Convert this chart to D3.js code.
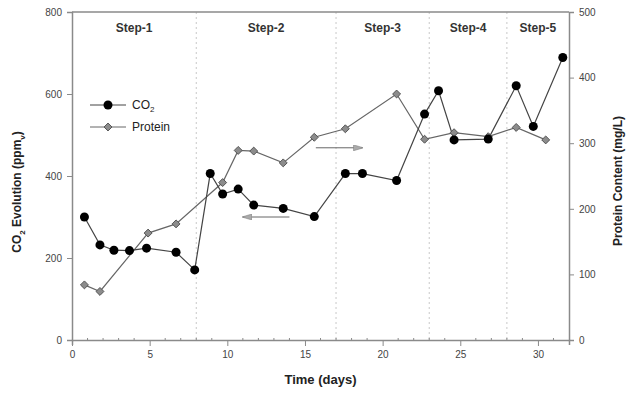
<!DOCTYPE html>
<html>
<head>
<meta charset="utf-8">
<script src="https://cdn.jsdelivr.net/npm/d3@7"></script>
<style>
body { margin: 0; background: #fff; }
svg { font-family: "Liberation Sans", Arial, sans-serif; }
</style>
</head>
<body>
<div id="container"></div>
<script>
// data
var co2Days = [0.8, 1.8, 2.7, 3.7, 4.8, 6.7, 7.9, 8.9, 9.7, 10.7, 11.7, 13.6, 15.6, 17.6, 18.7, 20.9, 22.7, 23.6, 24.6, 26.8, 28.6, 29.7, 31.6];
var co2Values = [300, 232, 219, 218, 224, 214, 171, 406, 356, 368, 329, 321, 301, 406, 406, 389, 551, 608, 488, 490, 620, 521, 689];
var proteinDays = [0.8, 1.8, 4.9, 6.7, 9.7, 10.7, 11.7, 13.6, 15.6, 17.6, 20.9, 22.7, 24.6, 26.8, 28.6, 30.5];
var proteinValues = [84, 74, 163, 177, 240, 289, 288, 270, 309, 322, 375, 306, 316, 310, 324, 305];
var stepBounds = [0, 8, 17, 23, 28, 32];
var stepNames = ["Step-1", "Step-2", "Step-3", "Step-4", "Step-5"];
var xTicks = [0, 5, 10, 15, 20, 25, 30];
var leftTicks = [0, 200, 400, 600, 800];
var rightTicks = [0, 100, 200, 300, 400, 500];

var W = 642, H = 394;
var margin = {top: 12, right: 73, bottom: 54, left: 72};
var width = W - margin.left - margin.right,
	height = H - margin.top - margin.bottom;
var axisColor = "#8a8a8a";

var svg = d3.select("#container").append("svg")
	.attr("width", W)
	.attr("height", H);
var g = svg.append("g")
	.attr("transform", "translate(" + margin.left + "," + margin.top + ")");

var x = d3.scaleLinear().domain([0, 32]).range([0, width]);
var yL = d3.scaleLinear().domain([0, 800]).range([height, 0]);
var yR = d3.scaleLinear().domain([0, 500]).range([height, 0]);

// step separators
g.selectAll(".sep").data(stepBounds.slice(1, -1)).enter()
	.append("line")
	.attr("class", "sep")
	.attr("x1", function(d) { return x(d); })
	.attr("x2", function(d) { return x(d); })
	.attr("y1", 0).attr("y2", height)
	.attr("stroke", "#c8c8c8")
	.attr("stroke-dasharray", "2,3");

g.selectAll(".step").data(stepNames).enter()
	.append("text")
	.attr("class", "step")
	.attr("x", function(d, i) { return x((stepBounds[i] + stepBounds[i + 1]) / 2); })
	.attr("y", 20)
	.attr("text-anchor", "middle")
	.style("font-size", "12px")
	.style("font-weight", "bold")
	.style("fill", "#333")
	.text(function(d) { return d; });

// frame top line
g.append("line")
	.attr("x1", 0).attr("x2", width).attr("y1", 0).attr("y2", 0)
	.attr("stroke", axisColor).attr("stroke-width", 1.5);

// x axis
var xAxis = d3.axisBottom(x).tickValues(xTicks).tickSize(5).tickPadding(6);
var gx = g.append("g")
	.attr("transform", "translate(0," + height + ")")
	.call(xAxis);
gx.selectAll(".tick line").attr("transform", "translate(0,1)");
g.append("g").selectAll("line").data(d3.range(1, 32).filter(function(d) { return d % 5 != 0; })).enter()
	.append("line")
	.attr("x1", function(d) { return x(d); })
	.attr("x2", function(d) { return x(d); })
	.attr("y1", height - 2).attr("y2", height + 1)
	.attr("stroke", axisColor);

var yAxisL = d3.axisLeft(yL).tickValues(leftTicks).tickSize(5).tickPadding(5);
var gl = g.append("g").call(yAxisL);
var yAxisR = d3.axisRight(yR).tickValues(rightTicks).tickSize(5).tickPadding(5);
var gr = g.append("g").attr("transform", "translate(" + width + ",0)").call(yAxisR);

[gx, gl, gr].forEach(function(a) {
	a.select(".domain").attr("stroke", axisColor).attr("stroke-width", 1.5);
	a.selectAll(".tick line").attr("stroke", axisColor);
	a.selectAll(".tick text").style("font-size", "10px").style("fill", "#444").style("font-family", "Liberation Sans, Arial, sans-serif");
});

// axis titles
g.append("text")
	.attr("x", width / 2)
	.attr("y", height + 44)
	.attr("text-anchor", "middle")
	.style("font-size", "13px").style("font-weight", "bold").style("fill", "#222")
	.text("Time (days)");

var tl = g.append("text")
	.attr("transform", "translate(" + (-51) + "," + (height / 2 + 16) + ") rotate(-90)")
	.attr("text-anchor", "middle")
	.style("font-size", "12px").style("font-weight", "bold").style("fill", "#222");
tl.append("tspan").text("CO");
tl.append("tspan").attr("dy", 4).style("font-size", "8px").text("2");
tl.append("tspan").attr("dy", -4).text(" Evolution (ppm");
tl.append("tspan").attr("dy", 4).style("font-size", "8px").text("v");
tl.append("tspan").attr("dy", -4).text(")");

g.append("text")
	.attr("transform", "translate(" + (width + 53) + "," + (height / 2 + 5) + ") rotate(-90)")
	.attr("text-anchor", "middle")
	.style("font-size", "12px").style("font-weight", "bold").style("fill", "#222")
	.text("Protein Content (mg/L)");

// series
var co2 = co2Days.map(function(d, i) { return {x: d, y: co2Values[i]}; });
var prot = proteinDays.map(function(d, i) { return {x: d, y: proteinValues[i]}; });

g.append("path").datum(prot)
	.attr("fill", "none").attr("stroke", "#666").attr("stroke-width", 1.2)
	.attr("d", d3.line().x(function(d) { return x(d.x); }).y(function(d) { return yR(d.y); }));
g.append("path").datum(co2)
	.attr("fill", "none").attr("stroke", "#444").attr("stroke-width", 1.2)
	.attr("d", d3.line().x(function(d) { return x(d.x); }).y(function(d) { return yL(d.y); }));

var diamond = d3.symbol().type(d3.symbolDiamond2).size(40);
g.selectAll(".pdot").data(prot).enter()
	.append("path")
	.attr("class", "pdot")
	.attr("d", diamond)
	.attr("transform", function(d) { return "translate(" + x(d.x) + "," + yR(d.y) + ")"; })
	.attr("fill", "#8c8c8c").attr("stroke", "#555").attr("stroke-width", 1);

g.selectAll(".cdot").data(co2).enter()
	.append("circle")
	.attr("class", "cdot")
	.attr("cx", function(d) { return x(d.x); })
	.attr("cy", function(d) { return yL(d.y); })
	.attr("r", 4.5)
	.attr("fill", "#000");

// arrows pointing to the axis of each series
var defs = svg.append("defs");
defs.append("marker")
	.attr("id", "head")
	.attr("viewBox", "0 0 10 6")
	.attr("refX", 9).attr("refY", 3)
	.attr("markerWidth", 10).attr("markerHeight", 6)
	.attr("markerUnits", "userSpaceOnUse")
	.attr("orient", "auto")
	.append("path").attr("d", "M0,0 L10,3 L0,6 Z").attr("fill", "#aaa").attr("stroke", "#777").attr("stroke-width", 0.5);

g.append("line")
	.attr("x1", x(15.7)).attr("x2", x(18.7))
	.attr("y1", yR(293)).attr("y2", yR(293))
	.attr("stroke", "#666").attr("stroke-width", 1)
	.attr("marker-end", "url(#head)");
g.append("line")
	.attr("x1", x(14)).attr("x2", x(11))
	.attr("y1", yL(300)).attr("y2", yL(300))
	.attr("stroke", "#666").attr("stroke-width", 1)
	.attr("marker-end", "url(#head)");

// legend
var leg = g.append("g").attr("transform", "translate(18,93)");
leg.append("line").attr("x1", 0).attr("x2", 36).attr("y1", 0).attr("y2", 0).attr("stroke", "#444");
leg.append("circle").attr("cx", 18).attr("cy", 0).attr("r", 4.5).attr("fill", "#000");
var lt = leg.append("text").attr("x", 42).attr("y", 4).style("font-size", "12px").style("fill", "#222");
lt.append("tspan").text("CO");
lt.append("tspan").attr("dy", 3).style("font-size", "8px").text("2");
leg.append("line").attr("x1", 0).attr("x2", 36).attr("y1", 22).attr("y2", 22).attr("stroke", "#666");
leg.append("path").attr("d", diamond).attr("transform", "translate(18,22)")
	.attr("fill", "#8c8c8c").attr("stroke", "#555");
leg.append("text").attr("x", 42).attr("y", 26).style("font-size", "12px").style("fill", "#222").text("Protein");
</script>
</body>
</html>
